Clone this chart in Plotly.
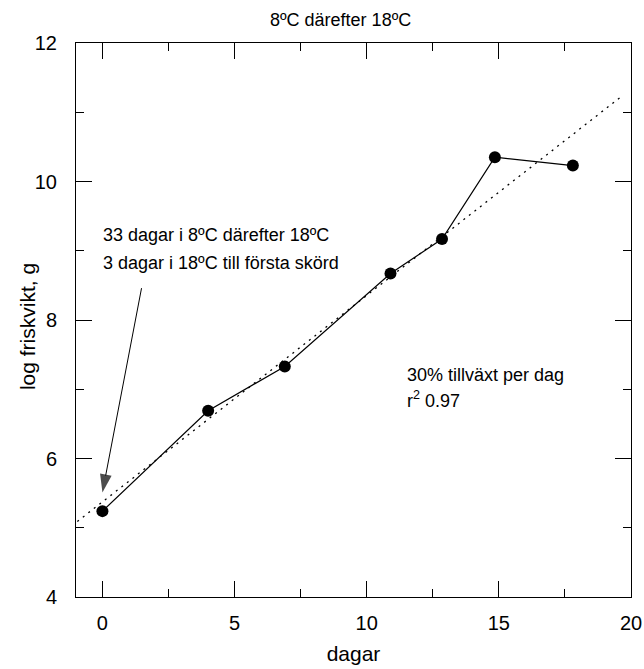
import numpy as np
import plotly.graph_objects as go

# Harvest measurements: days after transfer vs. log fresh weight
days = [0, 4, 6.9, 10.9, 12.85, 14.85, 17.8]
log_fw = [5.24, 6.69, 7.33, 8.67, 9.17, 10.35, 10.23]

# Extent of the drawn regression line (days)
fit_days = [-0.95, 19.6]

# Pointer from the note text down to the first harvest
arrow_days = [1.48, 0.0]
arrow_log_fw = [8.46, 5.51]

x_ticks = [0, 5, 10, 15, 20]
y_ticks = [4, 6, 8, 10, 12]

FONT = "Liberation Sans, Arial, sans-serif"

slope, intercept = np.polyfit(days, log_fw, 1)
fit_y = [slope * d + intercept for d in fit_days]

fig = go.Figure()

# dotted linear fit
fig.add_trace(go.Scatter(
    x=fit_days, y=fit_y, mode="lines",
    line=dict(color="black", width=1.3, dash="2px,5px"),
    showlegend=False, hoverinfo="skip",
))

# measured series
fig.add_trace(go.Scatter(
    x=days, y=log_fw, mode="lines+markers",
    line=dict(color="black", width=1.2),
    marker=dict(color="black", size=12, symbol="circle"),
    showlegend=False,
))

# annotation pointer
fig.add_trace(go.Scatter(
    x=arrow_days, y=arrow_log_fw, mode="lines+markers",
    line=dict(color="black", width=1),
    marker=dict(color="black", symbol="arrow", size=[0, 19], angleref="previous",
                line=dict(width=0)),
    showlegend=False, hoverinfo="skip",
))

tick_font = dict(family=FONT, size=20, color="black")
note_font = dict(family=FONT, size=18, color="black")

fig.update_layout(
    width=644, height=669,
    margin=dict(l=76, r=13, t=43, b=72, autoexpand=False),
    paper_bgcolor="white", plot_bgcolor="white",
    font=dict(family=FONT, color="black"),
    title=dict(
        text="8ºC därefter 18ºC",
        font=dict(family=FONT, size=18, color="black"),
        x=270 / 644, xanchor="left", xref="container",
        y=1 - 20 / 669, yanchor="middle", yref="container",
        automargin=False,
    ),
    xaxis=dict(
        range=[-1, 20], tickvals=x_ticks, ticktext=[str(v) for v in x_ticks],
        showgrid=False, zeroline=False, automargin=False,
        showline=True, linecolor="black", linewidth=1, mirror="allticks",
        ticks="inside", ticklen=16, tickwidth=1, tickcolor="black",
        minor=dict(dtick=2.5, tick0=0, ticks="inside", ticklen=8, tickwidth=1,
                   tickcolor="black", showgrid=False),
        tickfont=tick_font, ticklabelstandoff=8,
        title=dict(text="dagar", font=dict(family=FONT, size=21, color="black"),
                   standoff=13),
    ),
    yaxis=dict(
        range=[4, 12], tickvals=y_ticks, ticktext=[str(v) for v in y_ticks],
        showgrid=False, zeroline=False, automargin=False,
        showline=True, linecolor="black", linewidth=1, mirror="allticks",
        ticks="inside", ticklen=16, tickwidth=1, tickcolor="black",
        minor=dict(dtick=1, tick0=0, ticks="inside", ticklen=8, tickwidth=1,
                   tickcolor="black", showgrid=False),
        tickfont=tick_font, ticklabelstandoff=14,
    ),
    annotations=[
        dict(x=-0.0883, y=0.489, xref="paper", yref="paper", text="log friskvikt, g",
             textangle=-90, showarrow=False, xanchor="center", yanchor="middle",
             font=dict(family=FONT, size=21, color="black")),
        dict(x=-0.06, y=9.23, xref="x", yref="y", text="33 dagar i 8ºC därefter 18ºC",
             showarrow=False, xanchor="left", yanchor="middle", font=note_font),
        dict(x=-0.06, y=8.82, xref="x", yref="y", text="3 dagar i 18ºC till första skörd",
             showarrow=False, xanchor="left", yanchor="middle", font=note_font),
        dict(x=11.43, y=7.20, xref="x", yref="y", text="30% tillväxt per dag",
             showarrow=False, xanchor="left", yanchor="middle", font=note_font),
        dict(x=11.43, y=6.85, xref="x", yref="y", text="r<sup>2</sup> 0.97",
             showarrow=False, xanchor="left", yanchor="middle", font=note_font),
    ],
)

fig.write_html("out.html")
